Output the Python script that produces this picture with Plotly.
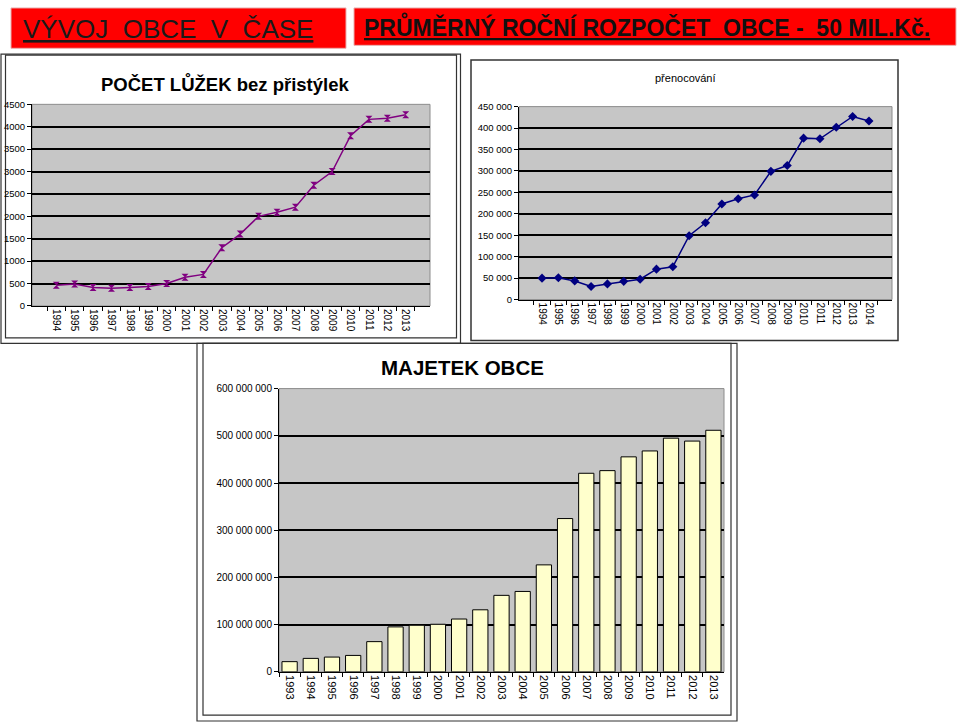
import plotly.graph_objects as go

W, H = 960, 728

# ---------------- data ----------------
beds_years = [str(y) for y in range(1994, 2014)]
beds_values = [460, 490, 415, 395, 415, 435, 500, 640, 705, 1300, 1605, 2000,
               2090, 2205, 2695, 3000, 3800, 4165, 4190, 4270]

nights_years = [str(y) for y in range(1994, 2015)]
nights_values = [50000, 51000, 43500, 30500, 36500, 42500, 47500, 71000, 76500,
                 149000, 179000, 223000, 235000, 244000, 299000, 312500, 376500,
                 375000, 402000, 427000, 416500]

assets_years = [str(y) for y in range(1993, 2014)]
assets_values = [21.6e6, 28.5e6, 31.3e6, 34.8e6, 64.0e6, 95.2e6, 98.7e6, 100.8e6,
                 111.9e6, 131.4e6, 162.0e6, 170.3e6, 226.6e6, 324.7e6, 420.6e6,
                 426.2e6, 455.4e6, 467.9e6, 495.0e6, 488.8e6, 511.7e6]

header_left = "VÝVOJ\u00a0 OBCE\u00a0 V\u00a0 ČASE"
header_right = "PRŮMĚRNÝ ROČNÍ ROZPOČET\u00a0 OBCE -\u00a0 50 MIL.Kč."
title_beds = "POČET LŮŽEK bez přistýlek"
title_nights = "přenocování"
title_assets = "MAJETEK OBCE"

ARIAL = "Liberation Sans, Arial, Helvetica, sans-serif"
PLOT_BG = "#C6C6C6"


def px(x):
    return x / W


def py(y):
    return 1 - y / H


fig = go.Figure()

fig.add_trace(go.Scatter(
    x=beds_years, y=beds_values, mode="lines+markers",
    line=dict(color="#800080", width=1.5),
    marker=dict(symbol="hourglass", size=7, color="#800080"),
    xaxis="x", yaxis="y", showlegend=False))

fig.add_trace(go.Scatter(
    x=nights_years, y=nights_values, mode="lines+markers",
    line=dict(color="#000080", width=1.5),
    marker=dict(symbol="diamond", size=7, color="#000080"),
    xaxis="x2", yaxis="y2", showlegend=False))

fig.add_trace(go.Bar(
    x=assets_years, y=assets_values,
    marker=dict(color="#FFFFCC", line=dict(color="#000000", width=1)),
    xaxis="x3", yaxis="y3", showlegend=False))

common_x = dict(type="category", showgrid=False, showline=True, linecolor="#000000",
                linewidth=1, ticks="outside", ticklen=4, tickcolor="#000000",
                tickson="boundaries", tickangle=90, zeroline=False, fixedrange=True)
common_y = dict(showgrid=True, gridcolor="#000000", gridwidth=1.5, showline=True,
                linecolor="#000000", linewidth=1, ticks="outside", ticklen=4,
                tickcolor="#000000", zeroline=False, fixedrange=True)

fig.update_layout(
    width=W, height=H, margin=dict(l=0, r=0, t=0, b=0),
    paper_bgcolor="white", plot_bgcolor=PLOT_BG, separators=", ",
    bargap=0.28,
    xaxis=dict(common_x, domain=[px(32), px(430)], anchor="y",
               tickfont=dict(family=ARIAL, size=10, color="#000")),
    yaxis=dict(common_y, domain=[py(305), py(100)], anchor="x", range=[0, 4500],
               dtick=500, tickformat="d",
               tickfont=dict(family=ARIAL, size=9.5, color="#000")),
    xaxis2=dict(common_x, domain=[px(519), px(892)], anchor="y2",
                tickfont=dict(family=ARIAL, size=10, color="#000")),
    yaxis2=dict(common_y, domain=[py(298.5), py(102.3)], anchor="x2",
                range=[0, 450000], dtick=50000, tickformat=",d",
                tickfont=dict(family=ARIAL, size=9.5, color="#000")),
    xaxis3=dict(common_x, domain=[px(279), px(724)], anchor="y3",
                tickfont=dict(family=ARIAL, size=11, color="#000")),
    yaxis3=dict(common_y, domain=[py(677), py(389)], anchor="x3",
                range=[0, 600e6], dtick=100e6, tickformat=",d",
                tickfont=dict(family=ARIAL, size=10, color="#000")),
)

shapes = []


def rect(x0, y0, x1, y1, line_color="#000", lw=1, fill=None, layer="below"):
    shapes.append(dict(type="rect", xref="paper", yref="paper",
                       x0=px(x0), x1=px(x1), y0=py(y1), y1=py(y0),
                       line=dict(color=line_color, width=lw),
                       fillcolor=fill if fill else "rgba(0,0,0,0)", layer=layer))


# header boxes
rect(11, 2, 346, 43, line_color="#E8B0B0", lw=1, fill="#FF0000")
rect(354, 2, 956, 40, line_color="#E8B0B0", lw=1, fill="#FF0000")

# panel frames
rect(1, 49, 460.5, 343, line_color="#333", lw=1.2)
rect(5.5, 50, 456.5, 337.5, line_color="#333", lw=1.2)
rect(471, 55, 898, 340, line_color="#333", lw=1.5)
rect(197, 343, 737, 727, line_color="#333", lw=1.2)
rect(203, 343, 731, 721, line_color="#333", lw=1.2)

# plot-area borders (grey)
rect(32, 100, 430, 305, line_color="#8C8C8C", lw=1)
rect(519, 102.3, 892, 298.5, line_color="#8C8C8C", lw=1)
rect(279, 389, 724, 677, line_color="#8C8C8C", lw=1)

fig.update_layout(shapes=shapes)

annotations = [
    dict(text="<u>" + header_left + "</u>", x=px(21), y=py(23), xanchor="left",
         yanchor="middle", font=dict(family=ARIAL, size=26, color="#1A1A1A")),
    dict(text="<u><b>" + header_right + "</b></u>", x=px(647), y=py(21),
         xanchor="center", yanchor="middle",
         font=dict(family=ARIAL, size=23, color="#111")),
    dict(text="<b>" + title_beds + "</b>", x=px(225), y=py(79), xanchor="center",
         yanchor="middle", font=dict(family=ARIAL, size=18.5, color="#000")),
    dict(text=title_nights, x=px(685), y=py(73), xanchor="center",
         yanchor="middle", font=dict(family=ARIAL, size=11, color="#000")),
    dict(text="<b>" + title_assets + "</b>", x=px(462), y=py(368), xanchor="center",
         yanchor="middle", font=dict(family=ARIAL, size=20.5, color="#000")),
]
for a in annotations:
    a.update(xref="paper", yref="paper", showarrow=False)
fig.update_layout(annotations=annotations)

fig.write_html("out.html")
